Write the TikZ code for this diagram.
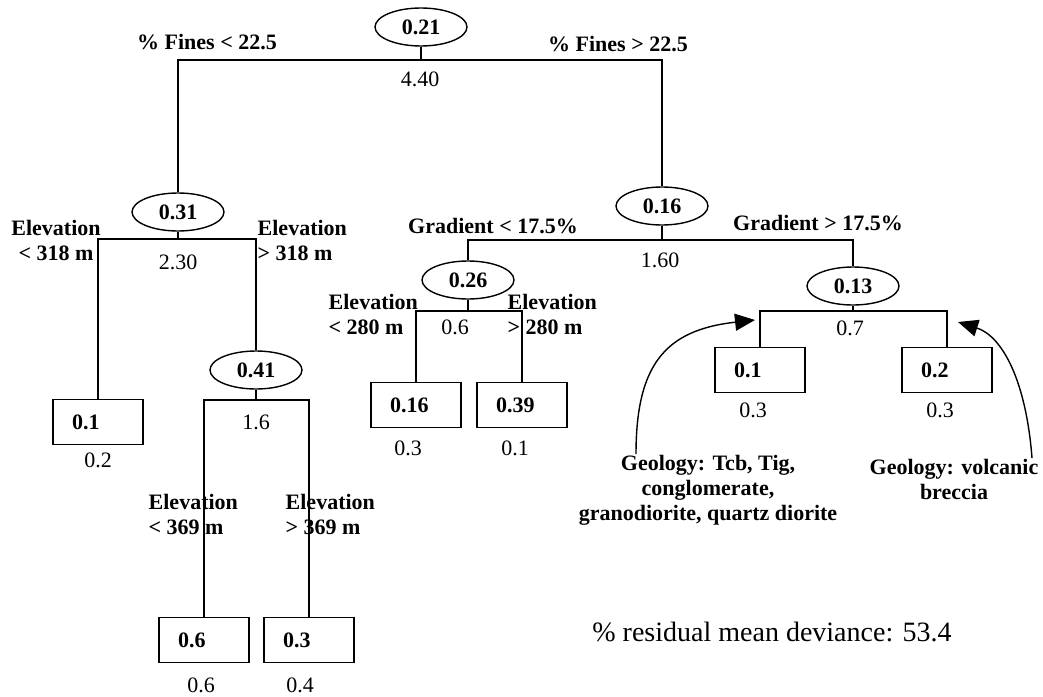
\documentclass[tikz,border=0pt]{standalone}
\usepackage{fontspec}
\setmainfont{Liberation Serif}
\usetikzlibrary{arrows.meta, positioning, shapes.geometric}

\tikzset{
  splitnode/.style={draw, ellipse, minimum width=92pt, minimum height=38pt, inner sep=0pt, font=\fontsize{22}{25}\selectfont\bfseries},
  leafbox/.style={draw, rectangle, minimum height=45pt, text width=52pt, inner xsep=19pt, align=left, font=\fontsize{22}{25}\selectfont\bfseries},
  cond/.style={inner sep=0pt, font=\fontsize{22}{25}\selectfont\bfseries},
  devval/.style={inner sep=0pt, font=\fontsize{22}{25}\selectfont},
  noteline/.style={-{Triangle[length=20pt,width=17pt]}},
}

\begin{document}
\begin{tikzpicture}[x=1pt, y=-1pt, line width=1.4pt]
  \useasboundingbox (0,0) rectangle (1043,696);

  % Splits
  \node[splitnode] (n021) at (421,27) {0.21};
  \node[splitnode] (n031) at (178,212) {0.31};
  \node[splitnode] (n016) at (662,206) {0.16};
  \node[splitnode] (n041) at (256,370) {0.41};
  \node[splitnode] (n026) at (468,280) {0.26};
  \node[splitnode] (n013) at (853,286) {0.13};

  % Leaves
  \node[leafbox] (l01a) at (98,422) {0.1};
  \node[leafbox] (l06) at (204,640) {0.6};
  \node[leafbox] (l03a) at (309,640) {0.3};
  \node[leafbox] (l016) at (416,405) {0.16};
  \node[leafbox] (l039) at (522,405) {0.39};
  \node[leafbox] (l01b) at (760,370) {0.1};
  \node[leafbox] (l02) at (947,370) {0.2};

  % Branch points
  \coordinate (s021) at (421,60);
  \coordinate (s031) at (178,239);
  \coordinate (s041) at (256,400);
  \coordinate (s016) at (662,240);
  \coordinate (s026) at (468,311);
  \coordinate (s013) at (853,311);

  % Branches
  \draw (n021.south) -- (s021);
  \draw (n031.north) |- (s021) -| (n016.north);
  \draw (n031.south) -- (s031);
  \draw (l01a.north) |- (s031) -| (n041.north);
  \draw (n041.south) -- (s041);
  \draw (l06.north) |- (s041) -| (l03a.north);
  \draw (n016.south) -- (s016);
  \draw (n026.north) |- (s016) -| (n013.north);
  \draw (n026.south) -- (s026);
  \draw (l016.north) |- (s026) -| (l039.north);
  \draw (n013.south) -- (s013);
  \draw (l01b.north) |- (s013) -| (l02.north);

  % Deviances
  \node[devval] (d021) at (420,79) {4.40};
  \node[devval] (d031) at (178,262) {2.30};
  \node[devval] (d041) at (256,422) {1.6};
  \node[devval] (d016) at (660,260) {1.60};
  \node[devval] (d026) at (455,327) {0.6};
  \node[devval] (d013) at (850,328) {0.7};
  \node[devval] (dl01a) at (98,460) {0.2};
  \node[devval] (dl06) at (201,685) {0.6};
  \node[devval] (dl03a) at (300,685) {0.4};
  \node[devval] (dl016) at (408,448) {0.3};
  \node[devval] (dl039) at (515,448) {0.1};
  \node[devval] (dl01b) at (753,410) {0.3};
  \node[devval] (dl02) at (940,410) {0.3};

  % Split rules
  \node[cond] (c1) at (207,42) {\% Fines < 22.5};
  \node[cond] (c2) at (618,44) {\% Fines > 22.5};
  \node[cond, align=center] (c3) at (56,240) {Elevation\\< 318 m};
  \node[cond, align=left, anchor=west] (c4) at (257,240) {Elevation\\> 318 m};
  \node[cond] (c5) at (493,226) {Gradient < 17.5\%};
  \node[cond] (c6) at (818,223) {Gradient > 17.5\%};
  \node[cond, align=left, anchor=west] (c7) at (328,314) {Elevation\\< 280 m};
  \node[cond, align=left, anchor=west] (c8) at (507,314) {Elevation\\> 280 m};
  \node[cond, align=left, anchor=west] (c9) at (148,514) {Elevation\\< 369 m};
  \node[cond, align=left, anchor=west] (c10) at (285,514) {Elevation\\> 369 m};

  % Geology notes
  \node[cond, align=center] (g1) at (708,490) {Geology: Tcb, Tig,\\conglomerate,\\granodiorite, quartz diorite};
  \node[cond, align=center] (g2) at (954,479) {Geology: volcanic\\breccia};
  \coordinate (t1) at (755,320);
  \coordinate (t2) at (958,322);
  \draw[noteline] ([xshift=-72pt]g1.north) .. controls (636,365) and (665,330) .. (t1);
  \draw[noteline] ([xshift=78pt]g2.north) .. controls (1026,380) and (1002,336) .. (t2);

  \node[devval, font=\fontsize{28}{32}\selectfont] (resid) at (772,632) {\% residual mean deviance: 53.4};
\end{tikzpicture}
\end{document}
